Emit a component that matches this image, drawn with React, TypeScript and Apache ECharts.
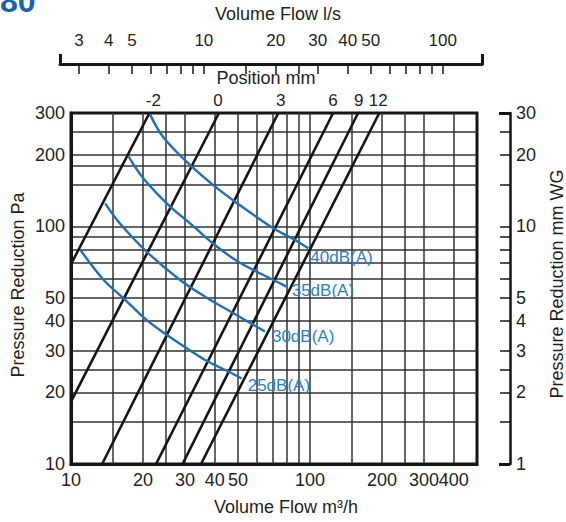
import React, { useEffect, useRef } from "react";
import * as echarts from "echarts";

// ---- axes (values) ----
const FLOW_LABELS = [10, 20, 30, 40, 50, 100, 200, 300, 400]; // m³/h
const FLOW_GRID = [15, 20, 25, 30, 40, 50, 60, 70, 80, 90, 100, 150, 200, 250, 300, 400];
const PA_LABELS = [10, 20, 30, 40, 50, 100, 200, 300];
const PA_GRID = [15, 20, 25, 30, 40, 50, 60, 70, 80, 90, 100, 150, 180, 200, 250];
const MMWG_LABELS = [1, 2, 3, 4, 5, 10, 20, 30];
const MMWG_TICKS = [1.5, 2, 2.5, 3, 4, 5, 6, 7, 8, 9, 10, 15, 20, 25];
const MMWG_ENDS = [1.0001, 29.99];
const LS_LABELS = [3, 4, 5, 10, 20, 30, 40, 50, 100];
const LS_TICKS = [3, 4, 5, 6, 7, 8, 9, 10, 15, 20, 25, 30, 40, 50, 60, 70, 80, 90, 100];
const LS_ENDS = [2.5001, 145.99];

// ---- damper positions (mm): straight lines, [flow m³/h, pressure Pa] ----
const POSITION_NAMES = ["-2", "0", "3", "6", "9", "12"];
const POSITION_LABEL_FLOW = [22.1, 41.2, 75.5, 124.8, 160, 193];
const POS_M2 = [[10, 69.3], [21.3, 300]];
const POS_0 = [[10, 18.3], [41.6, 300]];
const POS_3 = [[13.5, 10], [73.7, 300]];
const POS_6 = [[22.7, 10], [125, 300]];
const POS_9 = [[29.3, 10], [159, 300]];
const POS_12 = [[35.0, 10], [195, 300]];
const POSITION_LINES = [POS_M2, POS_0, POS_3, POS_6, POS_9, POS_12];

// ---- noise curves ----
const NOISE_NAMES = ["40dB(A)", "35dB(A)", "30dB(A)", "25dB(A)"];
const NOISE_40 = [[21.4, 296], [24.3, 238], [31.0, 184], [38.8, 151], [48.6, 127], [70.2, 98.2], [86.5, 87.7], [98.4, 80.9]];
const NOISE_35 = [[17.4, 197], [20.1, 159], [26.0, 121], [31.5, 103], [40.0, 83.5], [50.1, 71.0], [70.2, 59.5], [79.9, 55.8]];
const NOISE_30 = [[13.9, 125], [16.0, 103], [20.7, 78.3], [28.6, 59.5], [36.4, 50.6], [47.6, 43.2], [64.8, 36.1]];
const NOISE_25 = [[11.0, 79.0], [13.7, 59.5], [16.6, 49.8], [20.7, 40.4], [25.2, 34.9], [30.5, 30.7], [36.4, 27.4], [45.5, 24.5], [51.8, 22.9]];
const NOISE_CURVES = [NOISE_40, NOISE_35, NOISE_30, NOISE_25];
const NOISE_LABEL_OFFSETS = [[-1, 9], [2, 4], [4, 5], [3, 7]];

const FONT = '"Liberation Sans", Arial, Helvetica, sans-serif';
const TEXT = "#231f20";
const BLUE_LINE = "#1f6fb5";
const BLUE_TEXT = "#2b7fc6";
const DARK = "#151515";

function posLabel(v: number): string {
  let best = 0;
  let bd = Infinity;
  POSITION_LABEL_FLOW.forEach((f, i) => {
    const d = Math.abs(Math.log(f) - Math.log(v));
    if (d < bd) { bd = d; best = i; }
  });
  return POSITION_NAMES[best];
}

function buildOption(): any {
  const labelStyle = { fontSize: 18, color: TEXT, fontFamily: FONT };
  const series: any[] = [];
  POSITION_LINES.forEach((pts, i) => {
    series.push({
      type: "line",
      name: "pos " + POSITION_NAMES[i],
      xAxisIndex: 0,
      yAxisIndex: 0,
      data: pts,
      symbol: "none",
      showSymbol: false,
      clip: true,
      lineStyle: { color: DARK, width: 2.6 },
      z: 3,
    });
  });
  NOISE_CURVES.forEach((pts, i) => {
    series.push({
      type: "line",
      name: NOISE_NAMES[i],
      xAxisIndex: 0,
      yAxisIndex: 0,
      data: pts,
      symbol: "none",
      showSymbol: false,
      smooth: 0.35,
      clip: true,
      lineStyle: { color: BLUE_LINE, width: 2.4 },
      endLabel: {
        show: true,
        formatter: NOISE_NAMES[i],
        color: BLUE_TEXT,
        fontSize: 17,
        fontFamily: FONT,
        distance: 3,
        offset: NOISE_LABEL_OFFSETS[i],
        align: "left",
        verticalAlign: "middle",
      },
      z: 4,
    });
  });

  const title = (text: string, x: number, y: number, rot = 0, extra: any = {}) => ({
    type: "text",
    x,
    y,
    rotation: rot,
    style: {
      text,
      fill: TEXT,
      font: `18px ${FONT}`,
      align: "center",
      verticalAlign: "middle",
      textAlign: "center",
      textVerticalAlign: "middle",
      ...extra,
    },
  });

  return {
    animation: false,
    backgroundColor: "#ffffff",
    textStyle: { fontFamily: FONT },
    grid: [
      { left: 71, top: 113, width: 406, height: 351, show: true, borderColor: DARK, borderWidth: 3, backgroundColor: "transparent", containLabel: false, outerBoundsMode: "none" },
      { left: 60, top: 54, width: 422, height: 10, show: false, containLabel: false, outerBoundsMode: "none" },
    ],
    xAxis: [
      {
        gridIndex: 0, type: "log", logBase: 10, min: 10, max: 500, position: "bottom",
        axisLine: { show: true, lineStyle: { color: DARK, width: 3 } },
        axisTick: { show: false, customValues: FLOW_GRID },
        minorTick: { show: false }, minorSplitLine: { show: false },
        axisLabel: { customValues: FLOW_LABELS, margin: 7, ...labelStyle },
        splitLine: { show: true, lineStyle: { color: "#333", width: 1.5 } },
      },
      {
        gridIndex: 1, type: "log", logBase: 10, min: 2.5, max: 146, position: "top",
        axisLine: { show: true, lineStyle: { color: DARK, width: 3 } },
        axisTick: { show: true, inside: true, length: 10, lineStyle: { color: DARK, width: 1.5 }, customValues: LS_TICKS },
        minorTick: { show: false },
        axisLabel: { customValues: LS_LABELS, margin: 5, ...labelStyle, fontSize: 17 },
        splitLine: { show: false },
      },
      {
        gridIndex: 0, type: "log", logBase: 10, min: 10, max: 500, position: "top",
        axisLine: { show: false },
        axisTick: { show: false },
        minorTick: { show: false },
        axisLabel: { customValues: POSITION_LABEL_FLOW, margin: 4, ...labelStyle, fontSize: 17, formatter: (v: number) => posLabel(v) },
        splitLine: { show: false },
      },
      {
        gridIndex: 1, type: "log", logBase: 10, min: 2.5, max: 146, position: "top",
        axisLine: { show: false },
        axisTick: { show: true, inside: true, length: 11, lineStyle: { color: DARK, width: 3 }, customValues: LS_ENDS },
        axisLabel: { show: false },
        splitLine: { show: false },
      },
    ],
    yAxis: [
      {
        gridIndex: 0, type: "log", logBase: 10, min: 10, max: 300, position: "left",
        axisLine: { show: true, lineStyle: { color: DARK, width: 3 } },
        axisTick: { show: false, customValues: PA_GRID },
        minorTick: { show: false }, minorSplitLine: { show: false },
        axisLabel: { customValues: PA_LABELS, margin: 6, ...labelStyle },
        splitLine: { show: true, lineStyle: { color: "#333", width: 1.5 } },
      },
      {
        gridIndex: 0, type: "log", logBase: 10, min: 1, max: 30, position: "right", offset: 33,
        axisLine: { show: true, lineStyle: { color: DARK, width: 2.5 } },
        axisTick: { show: true, inside: true, length: 10, lineStyle: { color: DARK, width: 1.5 }, customValues: MMWG_TICKS },
        minorTick: { show: false },
        axisLabel: { customValues: MMWG_LABELS, margin: 6, ...labelStyle },
        splitLine: { show: false },
      },
      {
        gridIndex: 0, type: "log", logBase: 10, min: 1, max: 30, position: "right", offset: 33,
        axisLine: { show: false },
        axisTick: { show: true, inside: true, length: 11, lineStyle: { color: DARK, width: 3 }, customValues: MMWG_ENDS },
        axisLabel: { show: false },
        splitLine: { show: false },
      },
      { gridIndex: 1, type: "value", show: false },
    ],
    graphic: [
      title("Volume Flow l/s", 278, 14),
      title("Position mm", 266, 78),
      title("Volume Flow m³/h", 286, 507),
      title("Pressure Reduction Pa", 18, 285, Math.PI / 2),
      title("Pressure Reduction mm WG", 557, 284, Math.PI / 2),
      {
        type: "text",
        x: 0,
        y: 1,
        style: {
          text: "80",
          fill: "#1763ae",
          font: `bold 32px ${FONT}`,
          align: "left",
          verticalAlign: "middle",
          textAlign: "left",
          textVerticalAlign: "middle",
        },
      },
    ],
    series,
  };
}

export default function App() {
  const ref = useRef<HTMLDivElement>(null);
  useEffect(() => {
    if (!ref.current) return;
    const chart = echarts.init(ref.current, undefined, { renderer: "svg" });
    chart.setOption(buildOption());
    return () => chart.dispose();
  }, []);
  return (
    <div
      ref={ref}
      style={{ position: "absolute", left: 0, top: 0, width: 566, height: 522, background: "#fff" }}
    />
  );
}
